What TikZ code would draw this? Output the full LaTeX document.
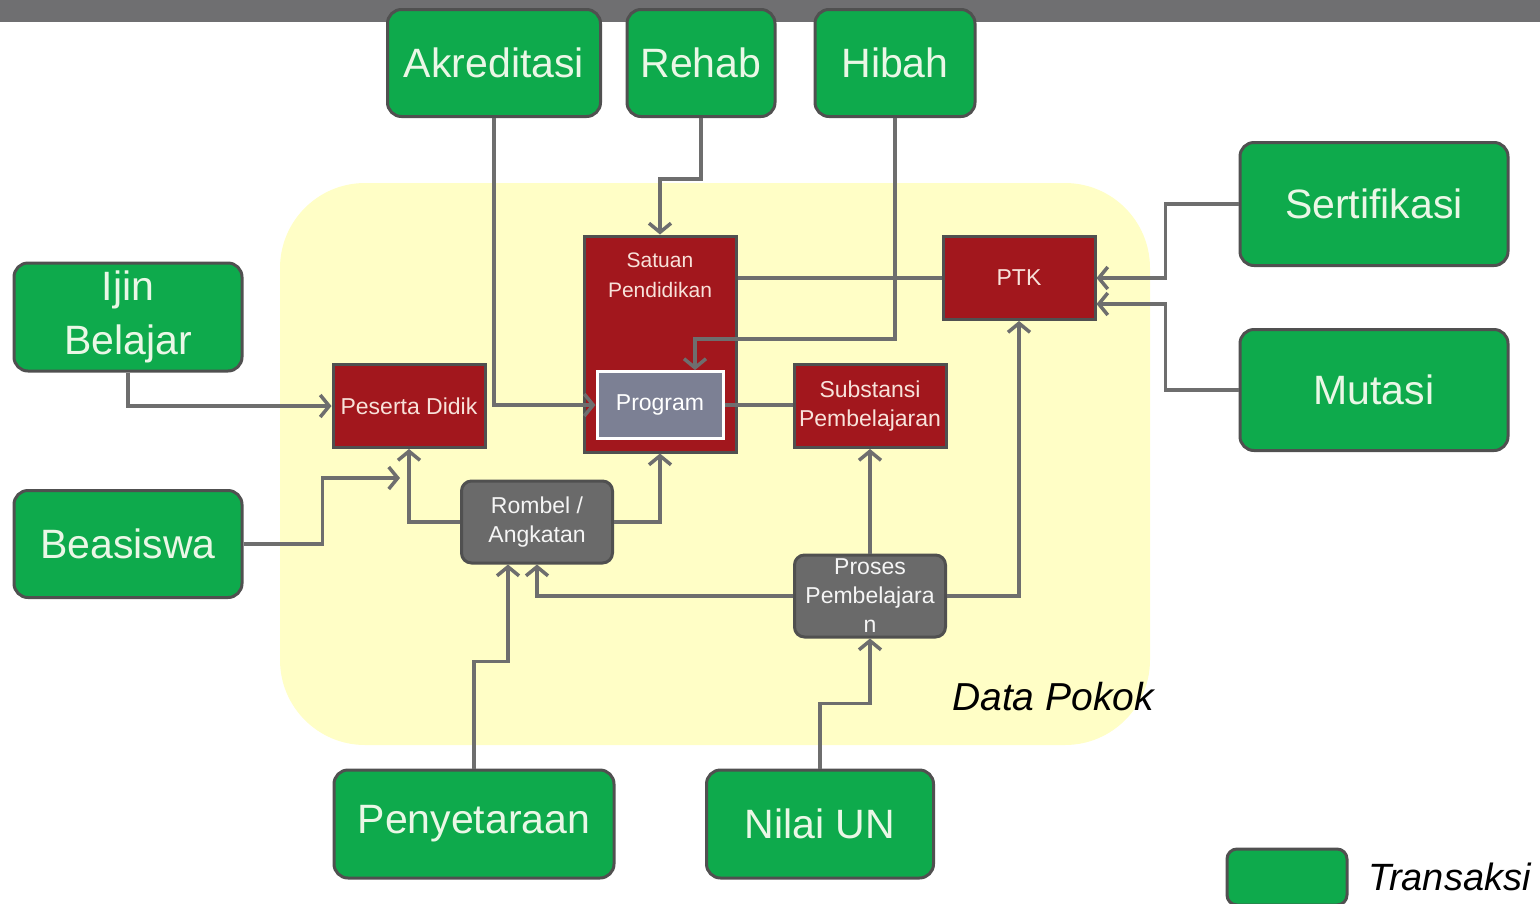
\documentclass[tikz,border=0pt]{standalone}
\usepackage{fontspec}
\setmainfont{Liberation Sans}
\usepackage{tikz}
\usetikzlibrary{arrows.meta, positioning, calc}
\definecolor{BarGray}{HTML}{6F6F71}
\definecolor{PokokYellow}{HTML}{FFFEC6}
\definecolor{TransGreen}{HTML}{0EAA4C}
\definecolor{EdgeGray}{HTML}{505050}
\definecolor{PokokRed}{HTML}{A2171D}
\definecolor{ProgGray}{HTML}{7C8094}
\definecolor{BoxGray}{HTML}{6A6A6A}
\definecolor{LineGray}{HTML}{6E6E6E}
\definecolor{PaleText}{HTML}{EAF7E6}
\definecolor{PinkText}{HTML}{F8E2DA}

\begin{document}
\begin{tikzpicture}[x=1pt, y=-1pt,
    trans/.style={draw=EdgeGray, line width=3pt, fill=TransGreen, rounded corners=14pt,
        text=PaleText, font=\fontsize{41}{54}\selectfont, align=center, inner sep=0pt},
    pokok/.style={draw=EdgeGray, line width=3pt, fill=PokokRed, text=PinkText,
        font=\fontsize{23}{29}\selectfont, align=center, inner sep=0pt,
        minimum width=152pt, minimum height=83pt},
    rincian/.style={draw=EdgeGray, line width=3pt, fill=BoxGray, rounded corners=10pt,
        text=white!92!gray, font=\fontsize{23}{29}\selectfont, align=center, inner sep=0pt,
        minimum width=151pt, minimum height=82pt},
    conn/.style={draw=LineGray, line width=3.5pt, -{Straight Barb[length=9pt, width=22pt]}},
    link/.style={draw=LineGray, line width=3.5pt}]
\useasboundingbox (0,0) rectangle (1540,903);
\fill[BarGray] (0,0) rectangle (1540,22);
\fill[PokokYellow, rounded corners=85pt] (280,183) rectangle (1150,745);

\node[trans, minimum width=213pt, minimum height=107pt] (akr) at (494,63) {Akreditasi};
\node[trans, minimum width=148pt, minimum height=107pt] (rehab) at (701,63) {Rehab};
\node[trans, minimum width=160pt, minimum height=107pt] (hibah) at (895,63) {Hibah};
\node[trans, minimum width=228pt, minimum height=108pt] (ijin) at (128,317) {Ijin\\Belajar};
\node[trans, minimum width=228pt, minimum height=107pt] (beas) at (128,544) {Beasiswa};
\node[trans, minimum width=268pt, minimum height=123pt] (sert) at (1374,204) {Sertifikasi};
\node[trans, minimum width=268pt, minimum height=121pt] (mutasi) at (1374,390) {Mutasi};
\node[trans, minimum width=280pt, minimum height=108pt] (peny) at (474,824) {Penyetaraan};
\node[trans, minimum width=227pt, minimum height=108pt] (nilai) at (820,824) {Nilai UN};
\node[trans, minimum width=120pt, minimum height=56pt, rounded corners=10pt] (legend) at (1287,877) {};
\node[right=20pt of legend, font=\fontsize{38}{40}\selectfont\itshape, inner sep=0pt] (ltext) {Transaksi};
\node[anchor=west, font=\fontsize{39}{40}\selectfont\itshape, inner sep=0pt] (dpokok) at (952,697) {Data Pokok};

\node[pokok, minimum height=216pt,
      label={[anchor=north, yshift=-15pt, text=PinkText, align=center,
              font=\fontsize{21}{30}\selectfont]north:{Satuan\\Pendidikan}}] (satuan) at (660,344) {};
\node[pokok, fill=ProgGray, draw=white, minimum width=126pt, minimum height=67pt,
      text=white] (prog) at (660,405) {Program};
\node[pokok] (peserta) at (409,406) {Peserta Didik};
\node[pokok] (ptk) at (1019,278) {PTK};
\node[pokok] (subst) at (870,406) {Substansi\\Pembelajaran};
\node[rincian] (rombel) at (537,522) {Rombel /\\Angkatan};
\node[rincian] (proses) at (870,596) {Proses\\Pembelajara\\n};
\coordinate (beasend) at (400,478);

\draw[conn] (akr.south) |- (prog.west);
\draw[conn] (rehab.south) -- ++(0,61) -| (satuan.north);
\draw[conn] (hibah.south) -- ++(0,221) -| ([xshift=35pt]prog.north);
\draw[link] (ptk.west) -- (ptk.west -| satuan.east);
\draw[link] (prog.east) -- (prog.east -| subst.west);
\draw[conn] (ijin.south) |- (peserta.west);
\draw[conn] (beas.east) -- ++(79,0) |- (beasend);
\draw[conn] (rombel.west) -| (peserta.south);
\draw[conn] (rombel.east) -| (satuan.south);
\draw[conn] (peny.north) -- ++(0,-107) -| ([xshift=-29pt]rombel.south);
\draw[conn] (proses.west) -| (rombel.south);
\draw[conn] (proses.north) -- (subst.south);
\draw[conn] (proses.east) -| (ptk.south);
\draw[conn] (nilai.north) -- ++(0,-65) -| (proses.south);
\draw[conn] (sert.west) -- ++(-73,0) |- (ptk.east);
\draw[conn] (mutasi.west) -- ++(-73,0) |- ([yshift=-26pt]ptk.east);
\end{tikzpicture}
\end{document}
